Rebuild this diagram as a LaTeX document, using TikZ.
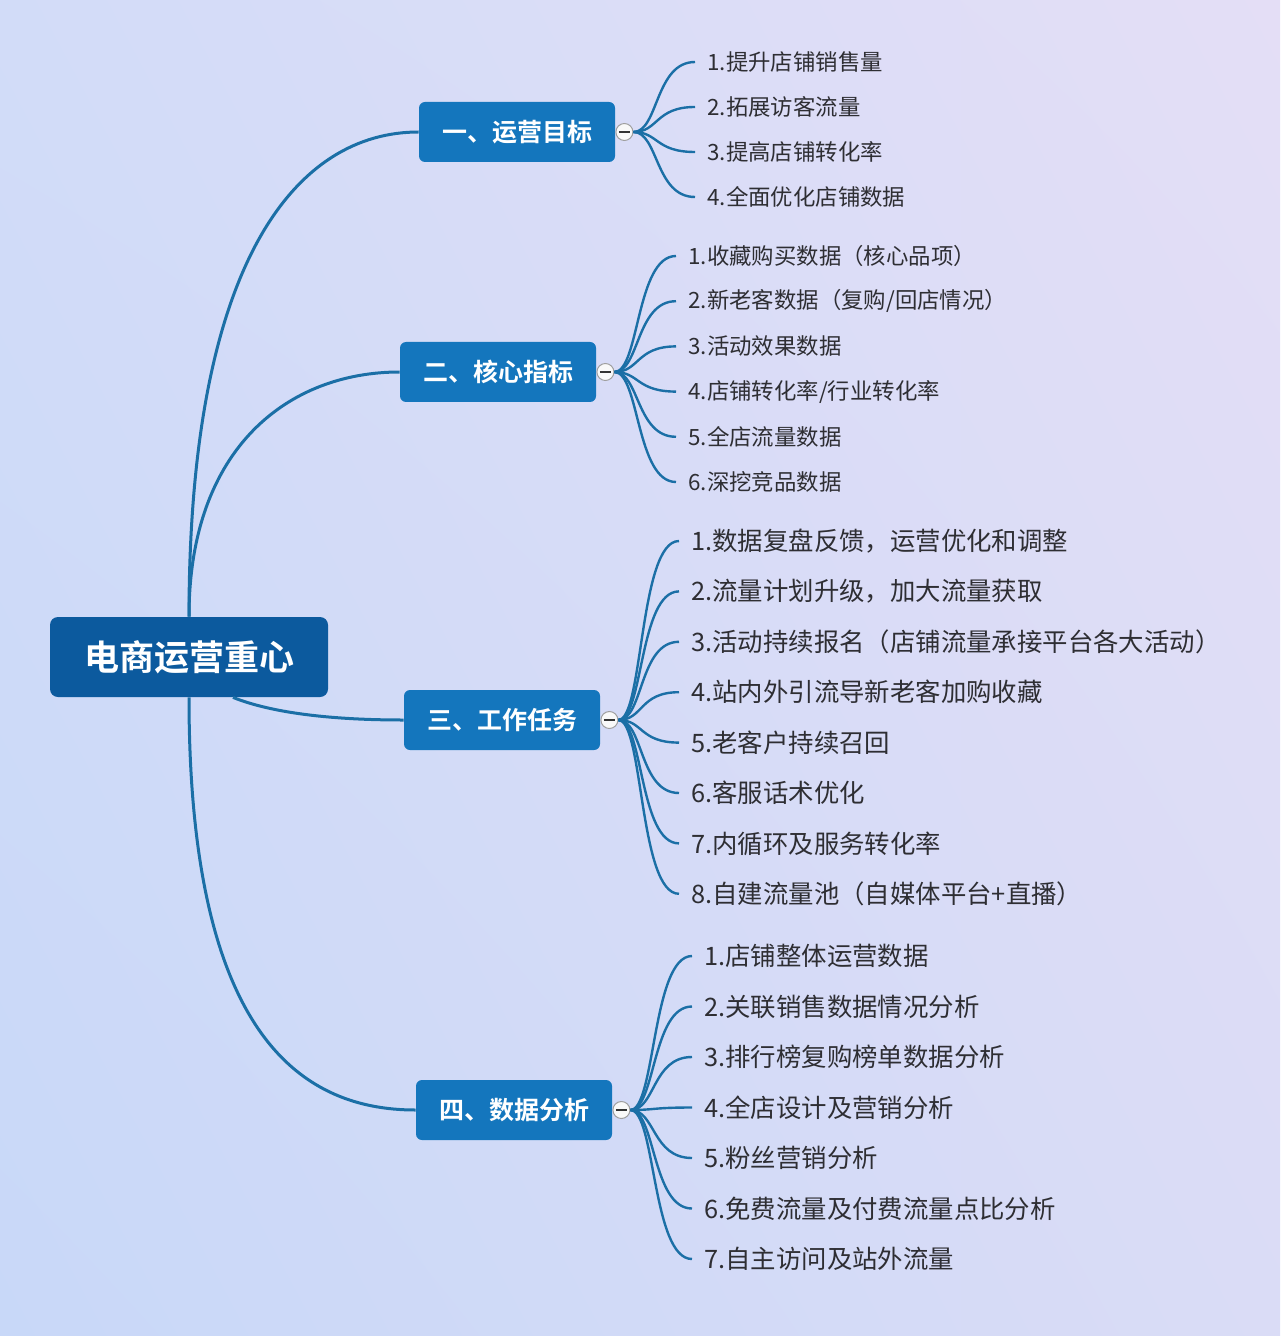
\documentclass[tikz,border=0pt]{standalone}
\usepackage{fontspec}
\usetikzlibrary{positioning,calc,shadings}
\newfontfamily\cjk{Noto Sans CJK SC}[BoldFont={Noto Sans CJK SC Bold}]
\definecolor{deep}{HTML}{0C5A9E}
\definecolor{mid}{HTML}{1476BD}
\definecolor{wire}{HTML}{1B6FA6}
\definecolor{txt}{HTML}{2E2E33}
\definecolor{bgA}{HTML}{D2DCF8}
\definecolor{bgB}{HTML}{E4DEF6}
\definecolor{bgC}{HTML}{C8D8F8}
\definecolor{bgD}{HTML}{DADCF6}
\tikzset{
  root/.style={fill=deep,rounded corners=4pt,text=white,inner sep=0pt,minimum width=139pt,minimum height=40pt,font=\cjk\bfseries\fontsize{17.5}{20}\selectfont},
  topic/.style={fill=mid,rounded corners=3pt,text=white,inner sep=0pt,minimum width=98pt,minimum height=30pt,font=\cjk\bfseries\fontsize{12.5}{15}\selectfont},
  knob/.style={circle,draw=gray!75,fill=white!95!gray,line width=0.5pt,minimum size=8.5pt,inner sep=0pt,
    path picture={\draw[gray!40!black,line width=0.6pt] ([xshift=-2.8pt]path picture bounding box.center) -- ([xshift=2.8pt]path picture bounding box.center);}},
  leaf/.style={anchor=west,inner xsep=6pt,inner ysep=2pt,text=txt,font=\cjk\fontsize{11.2}{13}\selectfont},
  bigleaf/.style={leaf,font=\cjk\fontsize{12.7}{15}\selectfont},
  br/.style={draw=wire,line width=1.5pt},
  tw/.style={draw=wire,line width=1.2pt},
}
\begin{document}
\begin{tikzpicture}[x=0.5pt,y=-0.5pt]
\shade[upper left=bgA,upper right=bgB,lower left=bgC,lower right=bgD] (0,0) rectangle (1280,1336);
\useasboundingbox (0,0) rectangle (1280,1336);
\node[root] (core) at (189,657) {电商运营重心};
\node[topic] (t1) at (517,132) {一、运营目标};
\node[topic] (t2) at (498,372) {二、核心指标};
\node[topic] (t3) at (502,720) {三、工作任务};
\node[topic] (t4) at (514,1110) {四、数据分析};
\coordinate (c3) at ($(core.south)+(44,0)$);
\draw[br] (core.north) .. controls +(0,-360) and +(-120,0) .. (t1.west);
\draw[br] (core.north) .. controls +(0,-170) and +(-110,0) .. (t2.west);
\draw[br] (c3) .. controls +(40,16) and +(-70,0) .. (t3.west);
\draw[br] (core.south) .. controls +(0,330) and +(-120,0) .. (t4.west);
\foreach \n in {1,...,4}
  \node[knob,right=0pt of t\n] (k\n) {};
\foreach \s [count=\i] in {1.提升店铺销售量,2.拓展访客流量,3.提高店铺转化率,4.全面优化店铺数据}{
  \node[leaf] (a\i) at (695,{62+45*(\i-1)}) {\s};
  \draw[tw] (k1.east) .. controls +(25,0) and +(-40,0) .. (a\i.west);
}
\foreach \s [count=\i] in {1.收藏购买数据（核心品项）,2.新老客数据（复购/回店情况）,3.活动效果数据,4.店铺转化率/行业转化率,5.全店流量数据,6.深挖竞品数据}{
  \node[leaf] (b\i) at (676,{256+45.2*(\i-1)}) {\s};
  \draw[tw] (k2.east) .. controls +(25,0) and +(-40,0) .. (b\i.west);
}
\foreach \s [count=\i] in {1.数据复盘反馈，运营优化和调整,2.流量计划升级，加大流量获取,3.活动持续报名（店铺流量承接平台各大活动）,4.站内外引流导新老客加购收藏,5.老客户持续召回,6.客服话术优化,7.内循环及服务转化率,8.自建流量池（自媒体平台+直播）}{
  \node[bigleaf] (c\i) at (679,{541+50.4*(\i-1)}) {\s};
  \draw[tw] (k3.east) .. controls +(25,0) and +(-40,0) .. (c\i.west);
}
\foreach \s [count=\i] in {1.店铺整体运营数据,2.关联销售数据情况分析,3.排行榜复购榜单数据分析,4.全店设计及营销分析,5.粉丝营销分析,6.免费流量及付费流量点比分析,7.自主访问及站外流量}{
  \node[bigleaf] (d\i) at (692,{956+50.5*(\i-1)}) {\s};
  \draw[tw] (k4.east) .. controls +(25,0) and +(-40,0) .. (d\i.west);
}
\end{tikzpicture}
\end{document}
